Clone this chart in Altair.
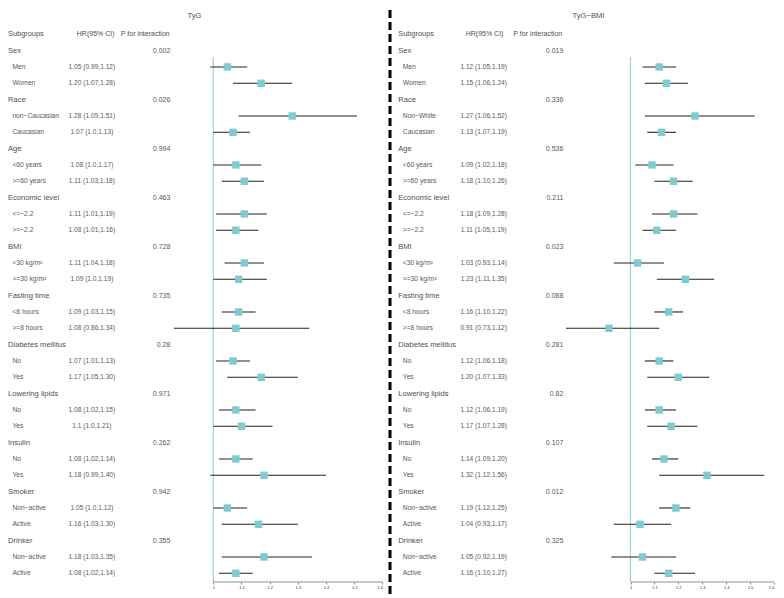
import altair as alt
import pandas as pd

# ---------------- data ----------------
groups = ["Sex", "Race", "Age", "Economic level", "BMI", "Fasting time",
          "Diabetes mellitus", "Lowering lipids", "Insulin", "Smoker", "Drinker"]

levels_tyg = [["Men", "Women"], ["non−Caucasian", "Caucasian"], ["<60 years", ">=60 years"],
              ["<=−2.2", ">=−2.2"], ["<30 kg/m²", ">=30 kg/m²"], ["<8 hours", ">=8 hours"],
              ["No", "Yes"], ["No", "Yes"], ["No", "Yes"], ["Non−active", "Active"],
              ["Non−active", "Active"]]
levels_bmi = [["Men", "Women"], ["Non−White", "Caucasian"], ["<60 years", ">=60 years"],
              ["<=−2.2", ">=−2.2"], ["<30 kg/m²", ">=30 kg/m²"], ["<8 hours", ">=8 hours"],
              ["No", "Yes"], ["No", "Yes"], ["No", "Yes"], ["Non−active", "Active"],
              ["Non−active", "Active"]]

p_tyg = ["0.002", "0.026", "0.994", "0.463", "0.728", "0.735", "0.28", "0.971", "0.262", "0.942", "0.355"]
p_bmi = ["0.019", "0.336", "0.536", "0.211", "0.023", "0.088", "0.281", "0.82", "0.107", "0.012", "0.325"]

# plotted point estimates (as drawn in the picture)
hr_tyg = [1.05, 1.17, 1.28, 1.07, 1.08, 1.11, 1.11, 1.08, 1.11, 1.09, 1.09, 1.08,
          1.07, 1.17, 1.08, 1.10, 1.08, 1.18, 1.05, 1.16, 1.18, 1.08]
lo_tyg = [0.99, 1.07, 1.09, 1.00, 1.00, 1.03, 1.01, 1.01, 1.04, 1.00, 1.03, 0.86,
          1.01, 1.05, 1.02, 1.00, 1.02, 0.99, 1.00, 1.03, 1.03, 1.02]
hi_tyg = [1.12, 1.28, 1.51, 1.13, 1.17, 1.18, 1.19, 1.16, 1.18, 1.19, 1.15, 1.34,
          1.13, 1.30, 1.15, 1.21, 1.14, 1.40, 1.12, 1.30, 1.35, 1.14]
txt_tyg = ["1.05 (0.99,1.12)", "1.20 (1.07,1.28)", "1.28 (1.09,1.51)", "1.07 (1.0,1.13)",
           "1.08 (1.0,1.17)", "1.11 (1.03,1.18)", "1.11 (1.01,1.19)", "1.08 (1.01,1.16)",
           "1.11 (1.04,1.18)", "1.09 (1.0,1.19)", "1.09 (1.03,1.15)", "1.08 (0.86,1.34)",
           "1.07 (1.01,1.13)", "1.17 (1.05,1.30)", "1.08 (1.02,1.15)", "1.1 (1.0,1.21)",
           "1.08 (1.02,1.14)", "1.18 (0.99,1.40)", "1.05 (1.0,1.12)", "1.16 (1.03,1.30)",
           "1.18 (1.03,1.35)", "1.08 (1.02,1.14)"]

hr_bmi = [1.12, 1.15, 1.27, 1.13, 1.09, 1.18, 1.18, 1.11, 1.03, 1.23, 1.16, 0.91,
          1.12, 1.20, 1.12, 1.17, 1.14, 1.32, 1.19, 1.04, 1.05, 1.16]
lo_bmi = [1.05, 1.06, 1.06, 1.07, 1.02, 1.10, 1.09, 1.05, 0.93, 1.11, 1.10, 0.73,
          1.06, 1.07, 1.06, 1.07, 1.09, 1.12, 1.12, 0.93, 0.92, 1.10]
hi_bmi = [1.19, 1.24, 1.52, 1.19, 1.18, 1.26, 1.28, 1.19, 1.14, 1.35, 1.22, 1.12,
          1.18, 1.33, 1.19, 1.28, 1.20, 1.56, 1.25, 1.17, 1.19, 1.27]
txt_bmi = ["1.12 (1.05,1.19)", "1.15 (1.06,1.24)", "1.27 (1.06,1.52)", "1.13 (1.07,1.19)",
           "1.09 (1.02,1.18)", "1.18 (1.10,1.26)", "1.18 (1.09,1.28)", "1.11 (1.05,1.19)",
           "1.03 (0.93,1.14)", "1.23 (1.11,1.35)", "1.16 (1.10,1.22)", "0.91 (0.73,1.12)",
           "1.12 (1.06,1.18)", "1.20 (1.07,1.33)", "1.12 (1.06,1.19)", "1.17 (1.07,1.28)",
           "1.14 (1.09,1.20)", "1.32 (1.12,1.56)", "1.19 (1.12,1.25)", "1.04 (0.93,1.17)",
           "1.05 (0.92,1.19)", "1.16 (1.10,1.27)"]

col_heads = ["Subgroups", "HR(95% CI)", "P for interaction"]
ticks = [1, 1.1, 1.2, 1.3, 1.4, 1.5, 1.6]
titles = ["TyG", "TyG−BMI"]


def build(levels, p, hr, lo, hi, txt):
    rows = []
    r = 1
    k = 0
    for g, lv, pv in zip(groups, levels, p):
        rows.append(dict(row=r, label=g, kind="group", p=pv))
        r += 1
        for l in lv:
            rows.append(dict(row=r, label=l, kind="item", hr=hr[k], lo=lo[k], hi=hi[k], hrtxt=txt[k]))
            r += 1
            k += 1
    return pd.DataFrame(rows)


df_tyg = build(levels_tyg, p_tyg, hr_tyg, lo_tyg, hi_tyg, txt_tyg)
df_bmi = build(levels_bmi, p_bmi, hr_bmi, lo_bmi, hi_bmi, txt_bmi)
n_rows = len(df_tyg)

FONT = "Liberation Sans"
TEAL = "#80CBCD"
REFC = "#9AD6D6"
TXT_G = "#505050"
TXT_I = "#5a5a5a"
AXIS_Y = 572

ysc = alt.Scale(domain=[0, n_rows], range=[24.3, 563.3], nice=False, zero=False)
Y = alt.Y("row:Q", scale=ysc, axis=None)


def panel(df, title, cfg):
    sc = alt.Scale(domain=cfg["domain"], range=cfg["range"], nice=False, zero=False)
    ax = alt.Axis(values=ticks, format="~g", domain=False, grid=False, title=None, orient="bottom",
                  labelFontSize=4, labelFont=FONT, tickSize=2, tickWidth=0.6, labelPadding=1,
                  tickColor="#444", labelColor="#333")

    def X(f):
        return alt.X(f, scale=sc, axis=ax)

    items = alt.Chart(df).transform_filter("datum.kind == 'item'")
    grps = alt.Chart(df).transform_filter("datum.kind == 'group'")

    ref = alt.Chart(pd.DataFrame({"v": [ticks[0]]})).mark_rule(color=REFC, strokeWidth=1.2).encode(
        x=X("v:Q"), y=alt.value(47), y2=alt.value(AXIS_Y))
    axline = alt.Chart(pd.DataFrame({"a": [ticks[0]], "b": [ticks[-1]]})).mark_rule(
        color="#444", strokeWidth=0.6).encode(x=X("a:Q"), x2="b:Q", y=alt.value(AXIS_Y))
    ci = items.mark_rule(color="#222", strokeWidth=1.1).encode(x=X("lo:Q"), x2="hi:Q", y=Y)
    sq = items.mark_square(size=55, color=TEAL, opacity=1).encode(x=X("hr:Q"), y=Y)

    ttl = alt.Chart(pd.DataFrame({"t": [title]})).mark_text(
        align="left", baseline="middle", font=FONT, fontSize=7.6, color=TXT_G).encode(
        x=alt.value(cfg["title_x"]), y=alt.value(6), text="t:N")
    head_layers = []
    for h, hx, fs in zip(col_heads, cfg["head_x"], [7.4, 7, 7]):
        head_layers.append(
            alt.Chart(pd.DataFrame({"t": [h], "row": [0]})).mark_text(
                align="left", baseline="middle", font=FONT, fontSize=fs, color=TXT_G).encode(
                x=alt.value(hx), y=Y, text="t:N"))
    glab = grps.mark_text(align="left", baseline="middle", font=FONT, fontSize=7.6, color=TXT_G).encode(
        x=alt.value(cfg["grp_x"]), y=Y, text="label:N")
    pv = grps.mark_text(align="right", baseline="middle", font=FONT, fontSize=7, color=TXT_I).encode(
        x=alt.value(cfg["p_x"]), y=Y, text="p:N")
    ilab = items.mark_text(align="left", baseline="middle", font=FONT, fontSize=6.7, color=TXT_I).encode(
        x=alt.value(cfg["item_x"]), y=Y, text="label:N")
    hrt = items.mark_text(align="center", baseline="middle", font=FONT, fontSize=6.6, color=TXT_I).encode(
        x=alt.value(cfg["hr_x"]), y=Y, text="hrtxt:N")

    return alt.layer(ref, axline, ci, sq, ttl, *head_layers, glab, pv, ilab, hrt)


cfg_left = dict(domain=[0.85, 1.6], range=[163.0, 374.4], title_x=179.6,
                head_x=[0, 68.8, 112.8], grp_x=0, item_x=4.4, hr_x=83.9, p_x=162.4)
cfg_right = dict(domain=[0.7, 1.6], range=[550.8, 765.9], title_x=564.6,
                 head_x=[390.2, 457.7, 505.3], grp_x=390.2, item_x=394.8, hr_x=475.7, p_x=555.4)

left = panel(df_tyg, titles[0], cfg_left)
right = panel(df_bmi, titles[1], cfg_right)

divider = alt.Chart(pd.DataFrame({"d": [0]})).mark_rule(
    color="black", strokeWidth=3, strokeDash=[8, 4]).encode(
    x=alt.value(382), y=alt.value(0), y2=alt.value(590))

chart = alt.layer(left, right, divider).resolve_scale(x="independent").properties(
    width=768, height=572, padding=0).configure_view(stroke=None)

chart.save("out.html", embed_options={"renderer": "svg", "actions": False})
